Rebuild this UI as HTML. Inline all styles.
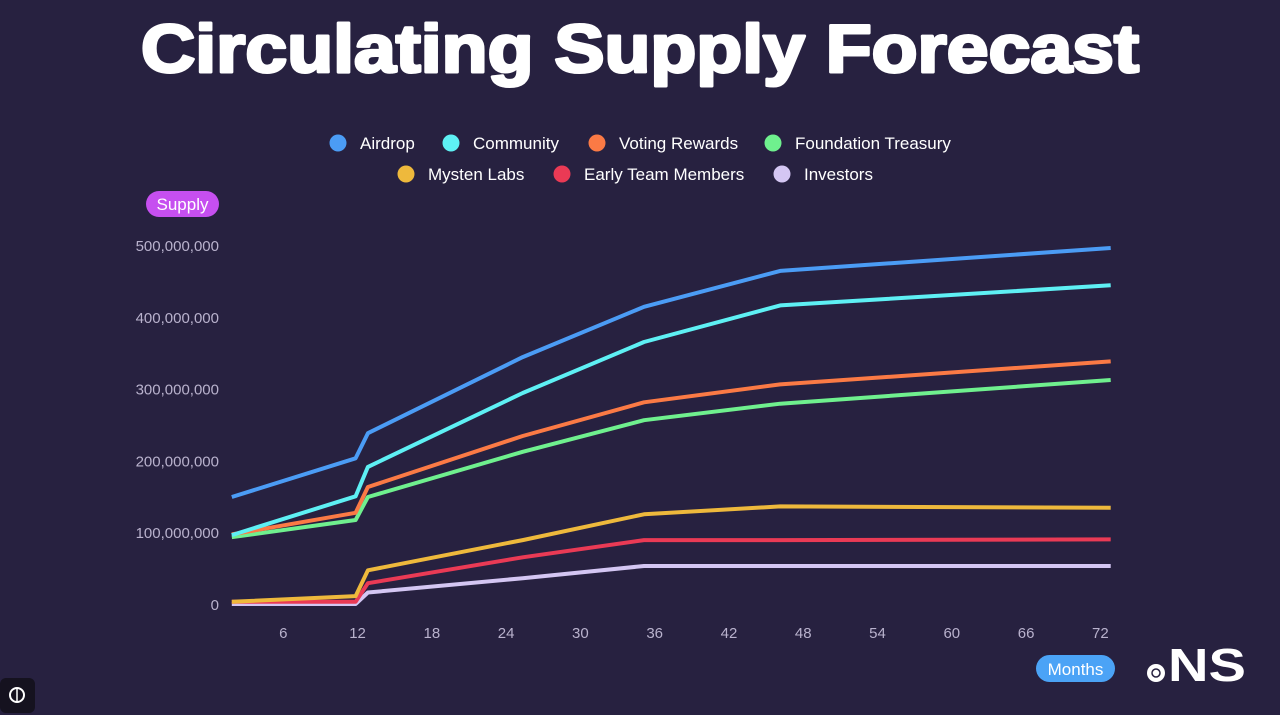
<!DOCTYPE html>
<html><head><meta charset="utf-8"><style>
html,body{margin:0;padding:0;background:#272140;}
svg{display:block;font-family:"Liberation Sans",sans-serif;}
</style></head><body>
<svg id="chart" width="1280" height="715" viewBox="0 0 1280 715">
<rect width="1280" height="715" fill="#272140"/>
<text x="640" y="72" text-anchor="middle" font-size="68" font-weight="bold" fill="#fff" stroke="#fff" stroke-width="3" stroke-linejoin="round" textLength="998" lengthAdjust="spacingAndGlyphs">Circulating Supply Forecast</text>
<g id="legend"></g>
<g><rect x="146" y="191" width="73" height="26" rx="13" fill="#c64ff0"/><text x="182.5" y="210" text-anchor="middle" font-size="17" fill="#fff">Supply</text></g>
<g><rect x="1036" y="655" width="79" height="27" rx="13.5" fill="#4ba3f6"/><text x="1075.5" y="675" text-anchor="middle" font-size="17" fill="#fff">Months</text></g>
<g id="yaxis"></g>
<g id="xaxis"></g>
<g id="series"></g>
<g>
<circle cx="1156" cy="673" r="9" fill="#fff"/><circle cx="1156" cy="673" r="4" fill="none" stroke="#272140" stroke-width="1.5"/>
<text x="1168" y="681" font-size="46" font-weight="bold" fill="#fff" textLength="78" lengthAdjust="spacingAndGlyphs">NS</text>
</g>
<g><rect x="0" y="678" width="35" height="35" rx="6" fill="#15121f"/><circle cx="17" cy="695" r="7" fill="none" stroke="#fff" stroke-width="2"/><line x1="17" y1="688" x2="17" y2="702" stroke="#fff" stroke-width="1.5"/></g>
</svg>
<script>
const months = [2, 12, 13, 25.5, 35.3, 46.3, 73];
const seriesNames = ["Airdrop","Community","Voting Rewards","Foundation Treasury","Mysten Labs","Early Team Members","Investors"];
const airdrop = [149, 203, 238, 344, 414, 464, 496];
const community = [96, 150, 191, 294, 365, 416, 444];
const votingRewards = [97, 127, 163, 234, 281, 306, 338];
const foundationTreasury = [93, 117, 149, 212, 256, 279, 312];
const mystenLabs = [3, 11, 47, 89, 125, 136, 134];
const earlyTeam = [3, 3, 29, 65, 89, 89, 90];
const investors = [0, 0, 16, 36, 53, 53, 53];
const yTicks = [0, 100, 200, 300, 400, 500];
const yTickLabels = ["0","100,000,000","200,000,000","300,000,000","400,000,000","500,000,000"];
const xTicks = [6, 12, 18, 24, 30, 36, 42, 48, 54, 60, 66, 72];

const colors = ["#4b9cf5","#5ef0f4","#fb7a45","#6ff08e","#eeb93c","#ea3a55","#d4c6f3"];
const allSeries = [airdrop, community, votingRewards, foundationTreasury, mystenLabs, earlyTeam, investors];
const NS = "http://www.w3.org/2000/svg";
const xs = m => 207 + (m) * 12.38;
const ys = v => 604 - v * 0.7178;
function mk(tag, attrs, parent){const e=document.createElementNS(NS,tag);for(const k in attrs)e.setAttribute(k,attrs[k]);parent.appendChild(e);return e;}

const ya = document.getElementById('yaxis');
yTicks.forEach((t,i)=>{
  const e = mk('text',{x:219,y:ys(t)+6,'text-anchor':'end','font-size':15,fill:'#b9b2cd'},ya);
  
  
  e.textContent = yTickLabels[i];
});
const xa = document.getElementById('xaxis');
xTicks.forEach(t=>{
  const e = mk('text',{x:xs(t)+2,y:638,'text-anchor':'middle','font-size':15,fill:'#b9b2cd'},xa);
  
  
  e.textContent = t;
});
const sg = document.getElementById('series');
for (let i = allSeries.length-1; i >= 0; i--){
  const d = allSeries[i].map((v,j)=>(j?'L':'M')+xs(months[j]).toFixed(1)+','+ys(v).toFixed(1)).join(' ');
  const p = mk('path',{d:d,fill:'none',stroke:colors[i],'stroke-width':4,'stroke-linejoin':'round'},sg);
  
  
}
const lg = document.getElementById('legend');
const legPos = [[338,143],[451,143],[597,143],[773,143],[406,174],[562,174],[782,174]];
seriesNames.forEach((n,i)=>{
  const g = mk('g',{},lg);
  
  
  mk('circle',{cx:legPos[i][0],cy:legPos[i][1],r:8.5,fill:colors[i]},g);
  const t = mk('text',{x:legPos[i][0]+22,y:legPos[i][1]+6,'font-size':17,fill:'#fff'},g);
  t.textContent = n;
});
</script>
</body></html>
